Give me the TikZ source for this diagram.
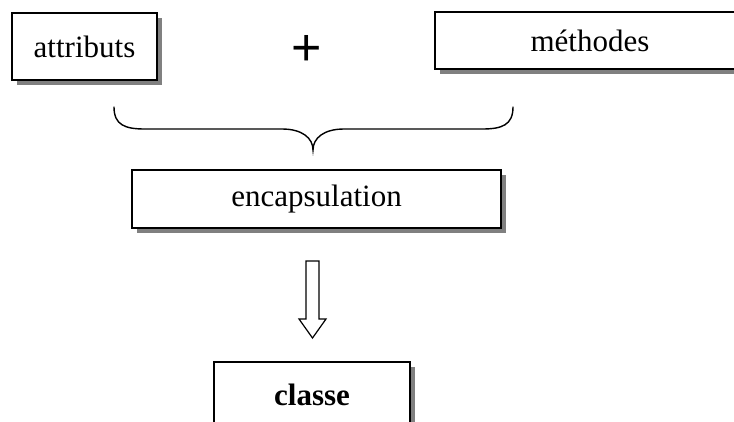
\documentclass[tikz,border=0pt]{standalone}
\usepackage{fontspec}
\setmainfont{Liberation Serif}
\newfontfamily\plusfont{Liberation Sans}
\usetikzlibrary{shadows}
\begin{document}
\begin{tikzpicture}[x=1pt,y=-1pt,
  box/.style={draw=black, line width=1.4pt, fill=white, inner sep=0pt,
    font=\fontsize{31}{36}\selectfont,
    drop shadow={shadow xshift=5pt, shadow yshift=-5pt, fill=black!50, opacity=1}},
  bracestyle/.style={line width=1.4pt, line cap=round},
  arrowstyle/.style={line width=1.2pt, fill=white, line join=miter}]
\clip (0,0) rectangle (734,421);
\fill[white] (0,0) rectangle (734,421);
\node[box, minimum width=145pt, minimum height=67pt] (attr) at (84.5,46.5) {attributs};
\node[box, minimum width=310pt, minimum height=57pt] (meth) at (590,40.5) {méthodes};
\node[font=\plusfont\fontsize{52}{60}\selectfont, inner sep=0pt] (plus) at (307,50) {+};
\node[box, minimum width=369pt, minimum height=58pt] (enc) at (316.5,199) {encapsulation};
\node[box, minimum width=196pt, minimum height=66pt, font=\fontsize{31}{36}\selectfont\bfseries] (cls) at (312,395) {classe};
\draw[bracestyle] (114,107) .. controls (114,125) and (125,129) .. (145,129) -- (282,129)
  .. controls (302,129) and (313,138) .. (313,150)
  .. controls (313,138) and (324,129) .. (344,129) -- (482,129)
  .. controls (502,129) and (513,125) .. (513,107);
\draw[arrowstyle] (306,261) -- (319,261) -- (319,319) -- (326,319) -- (312.5,338) -- (299,319) -- (306,319) -- cycle;
\end{tikzpicture}
\end{document}
